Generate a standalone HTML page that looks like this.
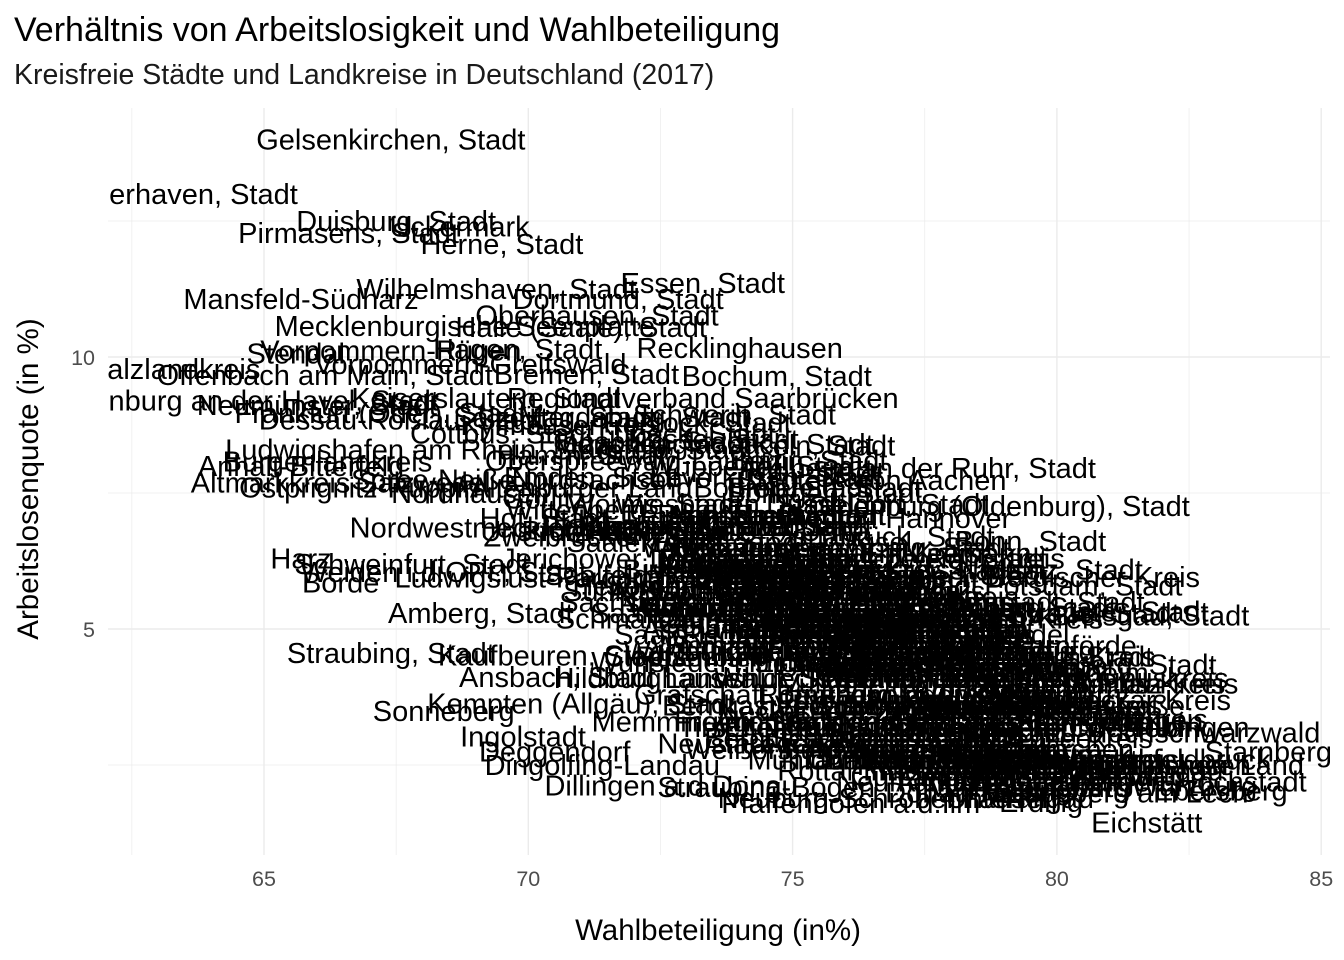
<!DOCTYPE html>
<html><head><meta charset="utf-8">
<style>
html,body{margin:0;padding:0;background:#fff;}
svg{display:block;font-family:"Liberation Sans",Arial,sans-serif;}
</style></head>
<body>
<svg id="chart" width="1344" height="960" viewBox="0 0 1344 960" xmlns="http://www.w3.org/2000/svg">
<defs><clipPath id="pc"><rect x="108" y="108" width="1222" height="747"/></clipPath></defs>
<text x="14" y="41" font-size="34" fill="#000">Verhältnis von Arbeitslosigkeit und Wahlbeteiligung</text>
<text x="14" y="84" font-size="28.5" fill="#1a1a1a">Kreisfreie Städte und Landkreise in Deutschland (2017)</text>
<g id="grid"></g>
<g id="labels" clip-path="url(#pc)"></g>
<g id="axes"></g>
<text x="718" y="940" font-size="29.5" text-anchor="middle" fill="#000">Wahlbeteiligung (in%)</text>
<text transform="translate(38,479) rotate(-90)" font-size="29.5" text-anchor="middle" fill="#000">Arbeitslosenquote (in %)</text>
</svg>
<script>
const xTicks=[65,70,75,80,85];
const xMinor=[62.5,67.5,72.5,77.5,82.5];
const yTicks=[5,10];
const yMinor=[2.5,7.5,12.5];
const names=[
"Gelsenkirchen, Stadt","Bremerhaven, Stadt","Duisburg, Stadt","Pirmasens, Stadt","Uckermark","Herne, Stadt","Mansfeld-Südharz","Wilhelmshaven, Stadt","Essen, Stadt","Dortmund, Stadt",
"Oberhausen, Stadt","Mecklenburgische Seenplatte","Halle (Saale), Stadt","Stendal","Vorpommern-Rügen","Hagen, Stadt","Vorpommern-Greifswald","Recklinghausen","Salzlandkreis","Offenbach am Main, Stadt",
"Bremen, Stadt","Bochum, Stadt","Brandenburg an der Havel, Stadt","Neumünster, Stadt","Kaiserslautern, Stadt","Regionalverband Saarbrücken","Schwerin, Stadt","Frankfurt (Oder), Stadt","Dessau-Roßlau, Stadt","Kyffhäuserkreis",
"Ludwigshafen am Rhein, Stadt","Köln, Stadt","Mülheim an der Ruhr, Stadt","Anhalt-Bitterfeld","Burgenlandkreis","Altmarkkreis Salzwedel","Ostprignitz-Ruppin","Nordsachsen","Städteregion Aachen","Krefeld, Stadt",
"Nordhausen","Wiesbaden, Stadt","Oldenburg (Oldenburg), Stadt","Region Hannover","Nordwestmecklenburg","Hof, Stadt","Bonn, Stadt","Harz","Schweinfurt, Stadt","Börde",
"Weiden i.d.OPf., Stadt","Mainz, Stadt","Rheinisch-Bergischer Kreis","Amberg, Stadt","Münster, Stadt","Freiburg im Breisgau, Stadt","Straubing, Stadt","Kaufbeuren, Stadt","Heidelberg, Stadt","Ansbach, Stadt",
"Kempten (Allgäu), Stadt","Ingolstadt","Deggendorf","Dingolfing-Landau","Starnberg","Dillingen a.d.Donau","Würzburg","Eichstätt","Pfaffenhofen a.d.Ilm","Erding",
"Freising","Ebersberg","Sonneberg","Ludwigslust-Parchim","Leipzig, Stadt","Magdeburg, Stadt","Cottbus, Stadt","Görlitz","Spree-Neiße","Lübeck, Stadt",
"Kassel, Stadt","Flensburg, Stadt","Hamm, Stadt","Wuppertal, Stadt","Berlin, Stadt","Mittelsachsen","Erzgebirgskreis","Bautzen","Meißen","Leipzig",
"Zwickau","Vogtlandkreis","Sächsische Schweiz-Osterzgebirge","Dahme-Spreewald","Havelland","Barnim","Oberhavel","Teltow-Fläming","Potsdam-Mittelmark","Oder-Spree",
"Oberspreewald-Lausitz","Elbe-Elster","Jerichower Land","Saalekreis","Wittenberg","Eichsfeld","Gotha","Ilm-Kreis","Saale-Holzland-Kreis","Wartburgkreis",
"Schmalkalden-Meiningen","Weimarer Land","Unstrut-Hainich-Kreis","Saalfeld-Rudolstadt","Greiz","Altenburger Land","Suhl, Stadt","Hildburghausen","Sömmerda","Saale-Orla-Kreis",
"Jena, Stadt","Erfurt, Stadt","Weimar, Stadt","Dresden, Stadt","Potsdam, Stadt","Rostock, Stadt","Düsseldorf, Stadt","Hamburg, Stadt","Bielefeld, Stadt","Mönchengladbach, Stadt",
"Bottrop, Stadt","Solingen, Stadt","Remscheid, Stadt","Leverkusen, Stadt","Braunschweig, Stadt","Salzgitter, Stadt","Osnabrück, Stadt","Emden, Stadt","Kiel, Stadt","Worms, Stadt",
"Mannheim, Stadt","Karlsruhe, Stadt","Stuttgart, Stadt","Nürnberg, Stadt","Fürth, Stadt","Erlangen, Stadt","Augsburg, Stadt","München, Stadt","Regensburg, Stadt","Bamberg, Stadt",
"Bayreuth, Stadt","Coburg, Stadt","Darmstadt, Stadt","Frankfurt am Main, Stadt","Gießen","Göttingen","Trier, Stadt","Koblenz, Stadt","Landau in der Pfalz, Stadt","Speyer, Stadt",
"Zweibrücken, Stadt","Neustadt a.d.Weinstraße, Stadt","Frankenthal (Pfalz), Stadt","Ulm, Stadt","Heilbronn, Stadt","Pforzheim, Stadt","Baden-Baden, Stadt","Passau, Stadt","Schwabach, Stadt","Memmingen, Stadt",
"Rosenheim, Stadt","Landshut, Stadt","Aschaffenburg, Stadt","Kleve","Mettmann","Rhein-Kreis Neuss","Viersen","Wesel","Düren","Rhein-Erft-Kreis",
"Euskirchen","Heinsberg","Oberbergischer Kreis","Rhein-Sieg-Kreis","Borken","Coesfeld","Steinfurt","Warendorf","Gütersloh","Herford",
"Höxter","Lippe","Minden-Lübbecke","Paderborn","Ennepe-Ruhr-Kreis","Hochsauerlandkreis","Märkischer Kreis","Olpe","Siegen-Wittgenstein","Soest",
"Unna","Gifhorn","Goslar","Helmstedt","Northeim","Peine","Wolfenbüttel","Diepholz","Hameln-Pyrmont","Hildesheim",
"Holzminden","Nienburg (Weser)","Schaumburg","Celle","Cuxhaven","Harburg","Lüchow-Dannenberg","Lüneburg","Osterholz","Rotenburg (Wümme)",
"Heidekreis","Stade","Uelzen","Verden","Ammerland","Aurich","Cloppenburg","Emsland","Friesland","Grafschaft Bentheim",
"Leer","Oldenburg","Osnabrück","Vechta","Wesermarsch","Wittmund","Dithmarschen","Herzogtum Lauenburg","Nordfriesland","Ostholstein",
"Pinneberg","Plön","Rendsburg-Eckernförde","Schleswig-Flensburg","Segeberg","Steinburg","Stormarn","Darmstadt-Dieburg","Groß-Gerau","Hochtaunuskreis",
"Main-Kinzig-Kreis","Main-Taunus-Kreis","Odenwaldkreis","Offenbach","Rheingau-Taunus-Kreis","Wetteraukreis","Lahn-Dill-Kreis","Limburg-Weilburg","Marburg-Biedenkopf","Vogelsbergkreis",
"Fulda","Hersfeld-Rotenburg","Kassel","Schwalm-Eder-Kreis","Waldeck-Frankenberg","Werra-Meißner-Kreis","Bergstraße","Ahrweiler","Altenkirchen","Bad Kreuznach",
"Birkenfeld","Cochem-Zell","Mayen-Koblenz","Neuwied","Rhein-Hunsrück-Kreis","Rhein-Lahn-Kreis","Westerwaldkreis","Bernkastel-Wittlich","Eifelkreis Bitburg-Prüm","Vulkaneifel",
"Trier-Saarburg","Alzey-Worms","Bad Dürkheim","Donnersbergkreis","Germersheim","Kusel","Südliche Weinstraße","Rhein-Pfalz-Kreis","Mainz-Bingen","Südwestpfalz",
"Merzig-Wadern","Neunkirchen","Saarlouis","Saarpfalz-Kreis","St. Wendel","Alb-Donau-Kreis","Biberach","Bodenseekreis","Böblingen","Calw",
"Emmendingen","Enzkreis","Esslingen","Freudenstadt","Göppingen","Heidenheim","Heilbronn","Hohenlohekreis","Karlsruhe","Konstanz",
"Lörrach","Ludwigsburg","Main-Tauber-Kreis","Neckar-Odenwald-Kreis","Ortenaukreis","Ostalbkreis","Rastatt","Ravensburg","Rems-Murr-Kreis","Reutlingen",
"Rhein-Neckar-Kreis","Rottweil","Schwäbisch Hall","Schwarzwald-Baar-Kreis","Sigmaringen","Tübingen","Tuttlingen","Waldshut","Zollernalbkreis","Breisgau-Hochschwarzwald",
"Aichach-Friedberg","Altötting","Augsburg","Bad Kissingen","Bad Tölz-Wolfratshausen","Bamberg","Bayreuth","Berchtesgadener Land","Cham","Coburg",
"Dachau","Donau-Ries","Forchheim","Fürstenfeldbruck","Fürth","Garmisch-Partenkirchen","Günzburg","Haßberge","Kelheim","Kitzingen",
"Kronach","Kulmbach","Landshut","Lichtenfels","Lindau (Bodensee)","Main-Spessart","Miesbach","Miltenberg","Mühldorf a.Inn","München",
"Neu-Ulm","Neustadt a.d.Waldnaab","Oberallgäu","Ostallgäu","Passau","Regen","Regensburg","Rhön-Grabfeld","Rosenheim","Roth",
"Rottal-Inn","Schwandorf","Tirschenreuth","Traunstein","Unterallgäu","Weilheim-Schongau","Weißenburg-Gunzenhausen","Wunsiedel i.Fichtelgebirge","Amberg-Sulzbach","Aschaffenburg",
"Landsberg am Lech","Neuburg-Schrobenhausen","Straubing-Bogen","Freyung-Grafenau","Neumarkt i.d.OPf.","Erlangen-Höchstadt","Nürnberger Land","Schweinfurt"
];
const turnout=[
67.4,63.2,67.5,66.6,68.7,69.5,65.7,69.4,73.3,71.7,
71.3,68.8,71.0,65.6,67.4,69.8,68.9,74.0,63.3,66.15,
71.1,74.7,64.3,66.0,69.2,73.3,73.9,67.2,67.6,70.6,
68.0,75.6,77.4,65.7,66.2,66.45,66.8,71.3,76.5,72.6,
68.9,73.8,78.9,77.0,69.35,70.3,79.5,65.7,67.8,66.45,
68.4,80.1,79.4,69.1,81.1,80.3,67.4,70.5,80.9,70.55,
71.0,69.9,70.5,71.4,84.0,72.7,82.6,81.7,76.1,79.7,
79.3,83.1,68.4,70.0,73.5,72.0,69.5,70.3,68.2,73.0,
73.5,72.2,71.0,74.3,75.3,74.0,73.6,73.5,74.2,74.8,
74.0,73.5,74.9,74.6,73.8,74.0,74.5,74.0,77.0,72.8,
72.0,71.8,71.5,72.0,70.9,75.4,73.2,73.0,74.2,73.5,
73.6,74.2,71.7,72.7,72.8,71.0,72.0,72.4,72.8,73.2,
76.5,73.8,76.8,78.0,80.5,73.2,76.6,77.2,75.6,73.5,
74.8,75.6,74.6,74.5,77.3,70.5,76.7,71.2,75.4,72.4,
73.0,77.0,79.3,74.6,76.0,79.1,73.5,79.9,75.2,75.8,
75.5,73.8,79.6,76.2,75.4,77.0,75.0,74.2,76.8,76.0,
71.5,78.5,73.4,76.0,72.8,71.9,77.1,75.6,78.0,73.5,
74.2,74.5,74.7,75.8,78.3,77.4,76.6,76.5,75.5,76.6,
77.2,75.2,77.0,78.8,78.2,81.3,79.6,79.0,76.6,77.1,
76.4,75.7,76.1,77.6,77.8,77.9,74.5,79.1,76.5,77.0,
75.8,76.4,75.2,74.3,74.6,75.0,77.7,77.3,74.7,76.3,
74.2,74.3,75.7,74.0,74.4,79.7,73.7,77.9,79.1,76.9,
74.6,77.1,75.6,77.5,78.5,73.4,73.0,75.9,75.5,74.5,
74.1,79.2,78.9,75.5,74.3,73.3,74.3,77.0,75.0,76.1,
78.1,78.8,78.6,76.0,77.5,74.8,80.1,78.4,75.6,81.2,
75.9,80.9,75.6,76.4,79.0,77.7,76.2,76.6,78.1,76.9,
77.8,75.0,77.8,77.4,76.2,74.9,78.2,78.4,75.4,75.0,
73.0,75.9,77.2,76.1,77.5,76.7,77.5,74.8,76.5,76.1,
79.1,77.6,80.0,77.1,77.1,75.5,79.9,81.3,80.3,77.7,
77.6,75.2,77.5,77.4,78.9,80.3,80.1,80.0,80.4,77.5,
81.0,81.8,80.8,77.8,77.0,77.4,79.0,78.6,80.6,79.4,
78.4,80.0,78.4,76.5,78.4,78.3,78.3,79.4,79.9,79.7,
80.9,78.8,77.9,78.4,78.3,82.5,79.0,77.4,78.7,81.6,
79.2,74.5,78.5,77.6,80.6,79.1,78.2,76.1,76.0,77.9,
81.5,78.2,80.2,82.0,81.2,78.5,77.3,79.0,77.3,77.5,
76.7,76.3,78.1,77.8,78.4,79.3,80.3,76.8,75.9,82.1,
77.7,75.3,79.2,79.0,75.7,74.8,79.9,80.0,77.6,80.6,
75.9,76.0,74.5,76.2,79.3,80.7,76.4,74.4,77.4,78.1,
81.2,76.8,74.5,75.0,78.0,82.3,82.6,79.8
];
const unemployment=[
14.0,13.0,12.5,12.28,12.4,12.08,11.07,11.25,11.36,11.07,
10.77,10.57,10.55,10.07,10.12,10.15,9.87,10.17,9.78,9.67,
9.69,9.65,9.2,9.12,9.25,9.25,8.95,8.97,8.85,8.75,
8.3,8.38,7.96,8.0,8.08,7.7,7.6,7.75,7.74,8.3,
7.5,7.3,7.26,7.04,6.87,7.04,6.62,6.3,6.2,5.86,
6.05,6.1,5.96,5.3,5.32,5.25,4.56,4.52,4.35,4.12,
3.63,3.03,2.75,2.5,2.75,2.13,2.12,1.45,1.8,1.82,
2.05,2.03,3.5,5.95,7.1,8.9,8.6,7.4,7.75,8.6,
8.5,8.45,8.2,8.0,8.1,5.7,5.6,6.3,6.0,5.5,
6.1,5.4,5.5,5.2,6.1,6.9,6.2,5.3,4.9,6.8,
8.1,7.0,6.3,6.6,7.2,4.4,5.1,5.5,4.9,4.6,
5.2,4.7,6.8,6.0,5.9,7.6,5.7,4.1,5.8,5.3,
5.9,6.6,5.8,6.0,5.8,8.8,7.3,6.5,7.6,8.4,
7.6,7.5,7.1,7.8,6.3,8.9,6.7,7.8,7.9,7.3,
6.9,5.3,5.4,6.4,5.8,4.2,5.7,4.5,4.9,5.2,
5.6,5.4,5.5,6.1,6.2,5.7,5.0,6.2,4.6,5.9,
6.7,5.3,6.9,4.3,5.8,6.8,5.0,5.0,3.6,3.3,
4.5,4.1,5.0,5.1,6.4,6.1,6.0,6.6,6.2,6.4,
4.8,5.6,4.9,5.2,3.5,3.2,3.8,4.2,4.3,5.5,
4.2,6.3,5.2,5.2,6.3,4.6,6.3,3.8,5.0,5.2,
6.8,4.4,6.9,5.8,5.9,5.6,5.1,4.1,7.1,6.0,
6.5,5.4,5.7,6.4,6.1,3.8,6.9,5.5,4.3,3.8,
5.9,5.2,5.7,4.5,4.6,7.1,4.5,3.3,5.7,3.8,
6.6,4.1,3.6,3.6,6.5,6.5,6.2,5.4,5.3,5.7,
5.0,4.7,4.7,5.6,4.4,6.1,3.8,4.6,5.8,4.1,
5.0,4.0,4.6,5.1,4.5,4.6,5.2,4.6,4.3,4.4,
3.7,4.7,4.7,4.4,4.1,6.0,4.8,3.9,4.8,6.0,
6.1,3.5,4.3,5.3,3.7,4.8,4.1,3.6,3.2,4.0,
3.2,4.8,4.2,5.2,4.2,5.5,3.6,4.0,4.0,3.6,
5.0,7.1,5.7,5.6,4.9,2.6,2.4,3.0,3.5,3.5,
3.3,3.35,3.4,3.1,3.8,4.1,3.1,2.6,3.3,3.9,
3.9,3.4,2.7,3.5,3.3,3.5,3.4,2.7,3.6,3.6,
3.7,2.7,2.9,3.6,3.2,3.2,2.8,3.7,3.6,3.1,
2.2,3.3,2.5,3.1,2.5,2.5,2.4,3.0,2.6,2.8,
2.3,2.0,2.5,2.6,2.6,2.8,2.3,2.7,2.6,2.6,
3.1,3.2,2.3,3.2,2.6,2.1,2.6,3.3,2.6,2.5,
2.4,2.9,2.6,2.2,2.9,2.9,2.1,2.3,2.5,2.4,
2.4,3.0,3.2,2.6,1.9,2.4,2.8,4.4,2.8,2.6,
2.0,1.9,2.1,3.3,2.2,2.2,2.5,2.4
];
const NS="http://www.w3.org/2000/svg";
const pL=108,pR=1330,pT=108,pB=855;
function sx(v){return 264+(v-65)*52.86;}
function sy(v){return 357-(v-10)*54.4;}
const grid=document.getElementById('grid');
function line(x1,y1,x2,y2,w,nm){
  const l=document.createElementNS(NS,'line');
  l.setAttribute('x1',x1);l.setAttribute('y1',y1);l.setAttribute('x2',x2);l.setAttribute('y2',y2);
  l.setAttribute('stroke','#ebebeb');l.setAttribute('stroke-width',w);
  
  
  grid.appendChild(l);
}
xMinor.forEach(v=>line(sx(v),pT,sx(v),pB,0.7,'x-minor-gridline'));
yMinor.forEach(v=>line(pL,sy(v),pR,sy(v),0.7,'y-minor-gridline'));
xTicks.forEach(v=>line(sx(v),pT,sx(v),pB,1.4,'x-major-gridline'));
yTicks.forEach(v=>line(pL,sy(v),pR,sy(v),1.4,'y-major-gridline'));
const axes=document.getElementById('axes');
xTicks.forEach(v=>{
  const t=document.createElementNS(NS,'text');
  t.setAttribute('x',sx(v));t.setAttribute('y',886);t.setAttribute('font-size','21.5');
  t.setAttribute('text-anchor','middle');t.setAttribute('fill','#4d4d4d');
  
  
  t.textContent=v;axes.appendChild(t);
});
yTicks.forEach(v=>{
  const t=document.createElementNS(NS,'text');
  t.setAttribute('x',95);t.setAttribute('y',sy(v)+8);t.setAttribute('font-size','21.5');
  t.setAttribute('text-anchor','end');t.setAttribute('fill','#4d4d4d');
  
  
  t.textContent=v;axes.appendChild(t);
});
const lab=document.getElementById('labels');
names.forEach((n,i)=>{
  const t=document.createElementNS(NS,'text');
  t.setAttribute('x',sx(turnout[i]));t.setAttribute('y',sy(unemployment[i]));
  t.setAttribute('dy','0.35em');t.setAttribute('font-size','29');
  t.setAttribute('text-anchor','middle');t.setAttribute('fill','#000');
  
  
  t.textContent=n;lab.appendChild(t);
});
</script>
</body></html>
